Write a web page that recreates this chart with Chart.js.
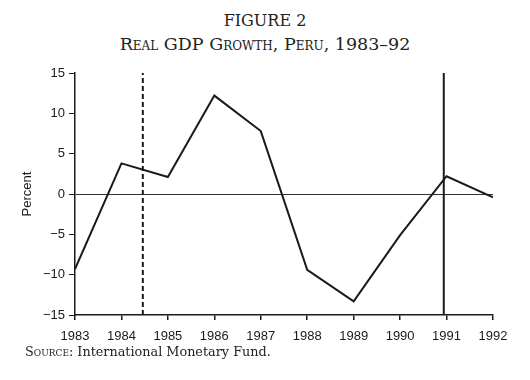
<!DOCTYPE html>
<html>
<head>
<meta charset="utf-8">
<script src="https://cdn.jsdelivr.net/npm/chart.js@4"></script>
<style>
  html, body { margin: 0; padding: 0; background: #fff; }
  #wrap { position: relative; width: 530px; height: 380px; overflow: hidden; }
  #chart { position: absolute; left: 0; top: 0; }
  .cap { position: absolute; left: 0; width: 530px; text-align: center; color: #222;
         font-family: "DejaVu Serif", "Liberation Serif", serif; line-height: 1.164; }
  #fig { top: 12px; font-size: 16px; }
  #sub { top: 34px; font-size: 17.5px; font-variant: small-caps; }
  #src { position: absolute; left: 25px; top: 345px; color: #222; font-size: 12.8px;
         font-family: "DejaVu Serif", "Liberation Serif", serif; line-height: 1.164; }
  #src span { font-variant: small-caps; }
</style>
</head>
<body>
<div id="wrap">
  <div class="cap" id="fig">FIGURE 2</div>
  <div class="cap" id="sub">Real GDP Growth, Peru, 1983–92</div>
  <canvas id="chart" width="530" height="380"></canvas>
  <div id="src"><span>Source</span>: International Monetary Fund.</div>
</div>
<script>
/* real GDP growth, percent */
const years = [1983, 1984, 1985, 1986, 1987, 1988, 1989, 1990, 1991, 1992];
const growth = [-9.3, 3.8, 2.1, 12.2, 7.8, -9.4, -13.3, -5.1, 2.2, -0.4];
const yTicks = [-15, -10, -5, 0, 5, 10, 15];
/* marker lines: dashed and solid */
const eventYears = [1984.46, 1990.94];
const eventDash = [[5, 3], []];

const ink = "#1a1a1a";
const sans = "'Liberation Sans', Arial, sans-serif";

const datasets = [{
  data: years.map((x, i) => ({ x, y: growth[i] })),
  borderColor: ink,
  borderWidth: 2,
  pointRadius: 0,
  tension: 0,
}];
eventYears.forEach((x, i) => {
  datasets.push({
    data: [{ x, y: yTicks[0] }, { x, y: yTicks[yTicks.length - 1] }],
    borderColor: ink,
    borderWidth: 2,
    borderDash: eventDash[i],
    pointRadius: 0,
  });
});

new Chart(document.getElementById("chart"), {
  type: "line",
  data: { datasets },
  options: {
    responsive: false,
    animation: false,
    events: [],
    layout: { padding: { left: 0, right: 37, top: 73, bottom: 40 } },
    plugins: { legend: { display: false }, tooltip: { enabled: false } },
    scales: {
      x: {
        type: "linear",
        min: years[0],
        max: years[years.length - 1],
        afterFit: (s) => { s.height = 25; },
        afterBuildTicks: (s) => { s.ticks = years.map((v) => ({ value: v })); },
        border: { color: ink, width: 1.5 },
        grid: { color: "rgba(0,0,0,0)", tickColor: ink, tickLength: 5, lineWidth: 1.5 },
        ticks: { color: ink, font: { family: sans, size: 13 }, padding: 9, maxRotation: 0,
                 callback: (v) => String(v) },
      },
      y: {
        min: yTicks[0],
        max: yTicks[yTicks.length - 1],
        afterFit: (s) => { s.width = 75; },
        afterBuildTicks: (s) => { s.ticks = yTicks.map((v) => ({ value: v })); },
        border: { color: ink, width: 1.5 },
        grid: {
          color: (c) => (c.tick && c.tick.value === 0 ? "#333" : "rgba(0,0,0,0)"),
          tickColor: ink, tickLength: 6, lineWidth: 1,
        },
        ticks: { color: ink, font: { family: sans, size: 13 }, padding: 4,
                 callback: (v) => String(v).replace("-", "\u2212") },
        title: { display: true, text: "Percent", color: ink,
                 font: { family: sans, size: 13 }, padding: { top: 20, bottom: 0 } },
      },
    },
  },
});
</script>
</body>
</html>
